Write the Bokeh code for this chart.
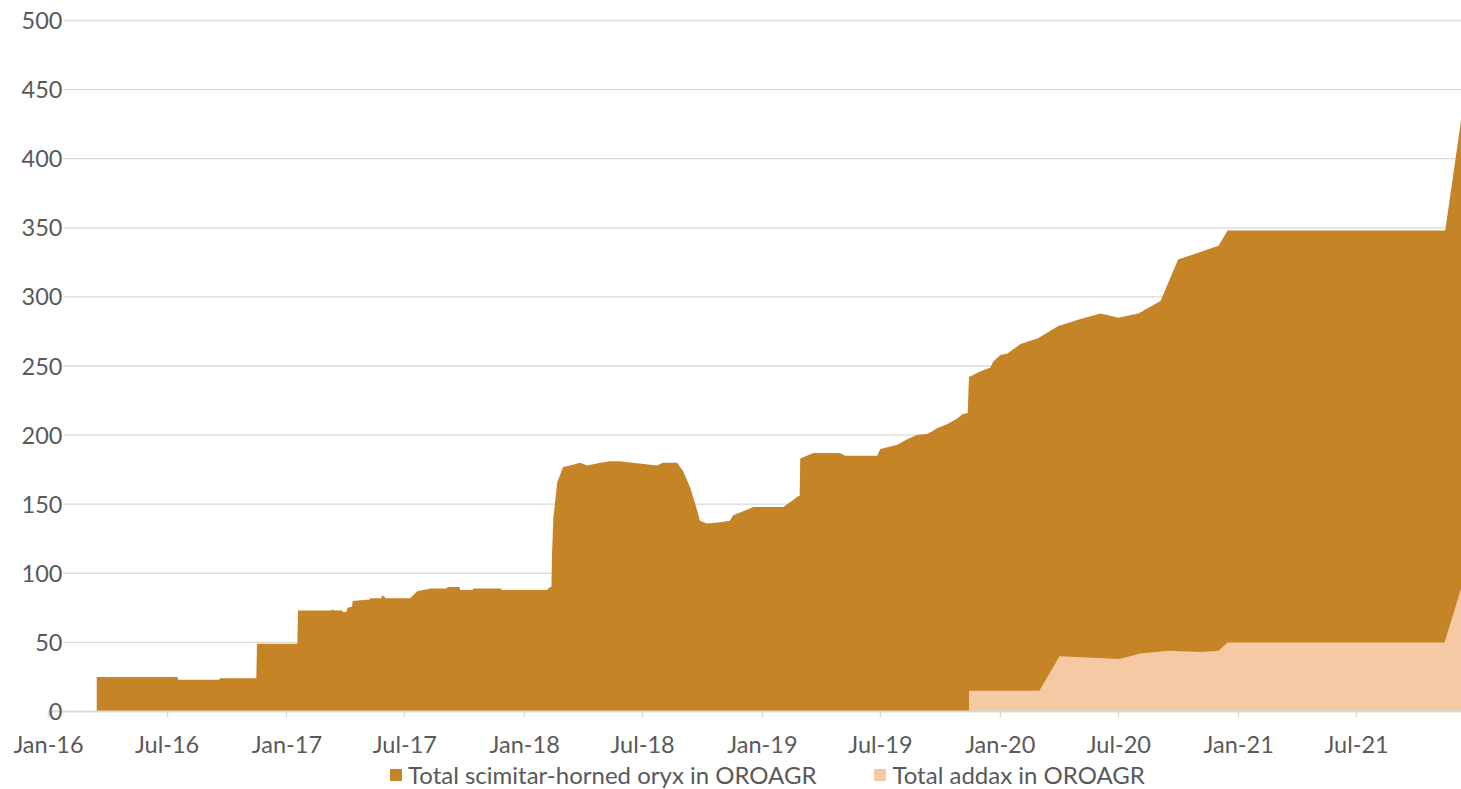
import pandas as pd
from bokeh.plotting import figure
from bokeh.models import (ColumnDataSource, Range1d, FixedTicker,
                          DatetimeTickFormatter, Legend, LegendItem)
from bokeh.embed import file_html
from bokeh.resources import INLINE

# ---------------- data ----------------
oryx_dates = [
    "2016-03-15", "2016-07-17", "2016-07-18", "2016-09-19", "2016-09-20",
    "2016-11-15", "2016-11-16", "2017-01-17", "2017-01-18", "2017-03-10",
    "2017-03-12", "2017-03-14", "2017-03-27", "2017-03-28", "2017-04-02",
    "2017-04-04", "2017-04-11", "2017-04-12", "2017-05-08", "2017-05-09",
    "2017-05-26", "2017-05-27", "2017-05-31", "2017-06-01", "2017-07-09",
    "2017-07-20", "2017-08-09", "2017-09-03", "2017-09-05", "2017-09-23",
    "2017-09-24", "2017-10-13", "2017-10-14", "2017-11-26", "2017-11-27",
    "2018-02-04", "2018-02-09", "2018-02-11", "2018-02-12", "2018-02-14",
    "2018-02-20", "2018-03-01", "2018-03-12", "2018-03-27", "2018-04-07",
    "2018-04-27", "2018-05-12", "2018-05-27", "2018-06-16", "2018-07-23",
    "2018-08-01", "2018-08-23", "2018-09-01", "2018-09-12", "2018-09-23",
    "2018-09-27", "2018-10-08", "2018-10-28", "2018-11-12", "2018-11-17",
    "2018-12-08", "2018-12-18", "2019-02-02", "2019-02-17", "2019-02-25",
    "2019-02-27", "2019-02-28", "2019-03-20", "2019-04-30", "2019-05-08",
    "2019-06-26", "2019-07-01", "2019-07-27", "2019-08-11", "2019-08-26",
    "2019-09-12", "2019-09-26", "2019-10-12", "2019-10-27", "2019-11-04",
    "2019-11-12", "2019-11-14", "2019-12-01", "2019-12-17", "2019-12-21",
    "2020-01-01", "2020-01-12", "2020-02-01", "2020-02-28", "2020-03-30",
    "2020-05-03", "2020-06-03", "2020-06-30", "2020-07-31", "2020-09-03",
    "2020-09-30", "2020-12-01", "2020-12-15", "2021-11-14", "2021-12-09",
]
oryx_values = [
    25, 25, 23, 23, 24,
    24, 49, 49, 73, 73,
    74, 73, 73, 72, 72,
    75, 76, 80, 81, 82,
    82, 84, 83, 82, 82,
    87, 89, 89, 90, 90,
    88, 88, 89, 89, 88,
    88, 90, 90, 115, 140,
    166, 177, 178, 180, 178,
    180, 181, 181, 180, 178,
    180, 180, 174, 162, 145,
    138, 136, 137, 138, 142,
    146, 148, 148, 153, 156,
    156, 183, 187, 187, 185,
    185, 190, 193, 197, 200,
    201, 205, 208, 212, 215,
    216, 242, 246, 249, 253,
    258, 259, 266, 270, 279,
    284, 288, 285, 288, 297,
    327, 337, 348, 348, 430,
]

addax_dates = [
    "2019-11-14", "2020-03-01", "2020-04-01", "2020-07-02", "2020-08-03",
    "2020-09-15", "2020-11-03", "2020-12-01", "2020-12-15", "2021-11-13",
    "2021-12-09",
]
addax_values = [15, 15, 40, 38, 42, 44, 43, 44, 50, 50, 90]

x_tick_dates = ["2016-01-01", "2016-07-01", "2017-01-01", "2017-07-01",
                "2018-01-01", "2018-07-01", "2019-01-01", "2019-07-01",
                "2020-01-01", "2020-07-01", "2021-01-01", "2021-07-01"]
y_ticks = [0, 50, 100, 150, 200, 250, 300, 350, 400, 450, 500]

series_names = ["Total scimitar-horned oryx in OROAGR", "Total addax in OROAGR"]
colors = ["#C58526", "#F5C9A4"]

# ---------------- layout constants ----------------
FONT = "Lato"
FS = "23.5px"
TXT = "#595959"
GRID = "#d9d9d9"

W, H = 1461, 789
LEFT = 48                      # pixel column of the Jan-16 / value axis
TOP, ZERO_Y = 20, 711          # pixel rows of the 500 line and of the 0 line
x_origin = pd.Timestamp("2016-01-01")
x_end = pd.Timestamp("2021-12-09")
days_span = (x_end - x_origin).days
x_view_start = x_origin - pd.Timedelta(days=LEFT * days_span / (W - LEFT))
y_top = 500
px_per_unit = (ZERO_Y - TOP) / y_top
y_view_top = y_top + TOP / px_per_unit
y_view_bottom = -(H - ZERO_Y) / px_per_unit

p = figure(width=W, height=H, x_axis_type="datetime",
           x_range=Range1d(x_view_start, x_end),
           y_range=Range1d(y_view_bottom, y_view_top),
           output_backend="svg", toolbar_location=None,
           min_border_left=0, min_border_right=0, min_border_top=0,
           min_border_bottom=0)
p.outline_line_color = None
p.xgrid.visible = False
p.ygrid.visible = False

# horizontal gridlines (start a little right of the value axis, as in Excel)
grid_start = x_origin + pd.Timedelta(days=23)
gl = [v for v in y_ticks if v > 0]
p.segment(x0=[grid_start] * len(gl), x1=[x_end] * len(gl), y0=gl, y1=gl,
          line_color=GRID, line_width=1.3)

src_o = ColumnDataSource(dict(x=pd.to_datetime(oryx_dates), y=oryx_values))
src_a = ColumnDataSource(dict(x=pd.to_datetime(addax_dates), y=addax_values))
r_o = p.varea(x="x", y1=0, y2="y", source=src_o, fill_color=colors[0])
r_a = p.varea(x="x", y1=0, y2="y", source=src_a, fill_color=colors[1])

origin_ms = x_origin.value / 1e6
end_ms = x_end.value / 1e6

# x axis, pinned at y = 0
xt = [pd.Timestamp(d).value // 10**6 for d in x_tick_dates]
xa = p.xaxis[0]
xa.fixed_location = 0
xa.bounds = (origin_ms, end_ms)
xa.ticker = FixedTicker(ticks=xt)
fmt = "%b-%y"
xa.formatter = DatetimeTickFormatter(
    milliseconds=fmt, seconds=fmt, minsec=fmt, minutes=fmt, hourmin=fmt,
    hours=fmt, days=fmt, months=fmt, years=fmt)
xa.axis_line_color = GRID
xa.axis_line_width = 2
xa.major_tick_line_color = GRID
xa.major_tick_line_width = 1.5
xa.major_tick_out = 6
xa.major_tick_in = 0
xa.minor_tick_line_color = None
xa.major_label_standoff = 12
xa.major_label_text_font = FONT
xa.major_label_text_font_size = FS
xa.major_label_text_color = TXT

# y axis, pinned at Jan-16
ya = p.yaxis[0]
ya.fixed_location = origin_ms
ya.ticker = FixedTicker(ticks=y_ticks)
ya.axis_line_color = None
ya.major_tick_line_color = None
ya.minor_tick_line_color = None
ya.major_label_standoff = -20
ya.major_label_text_font = FONT
ya.major_label_text_font_size = FS
ya.major_label_text_color = TXT

legend = Legend(items=[LegendItem(label=series_names[0], renderers=[r_o]),
                       LegendItem(label=series_names[1], renderers=[r_a])],
                orientation="horizontal", location=(388, 0),
                glyph_width=15, glyph_height=15, label_standoff=5,
                spacing=56, padding=0, margin=0,
                border_line_color=None, background_fill_alpha=0,
                label_text_font=FONT, label_text_font_size="24px",
                label_text_color=TXT)
p.add_layout(legend)

open("out.html", "w").write(file_html(p, INLINE))
